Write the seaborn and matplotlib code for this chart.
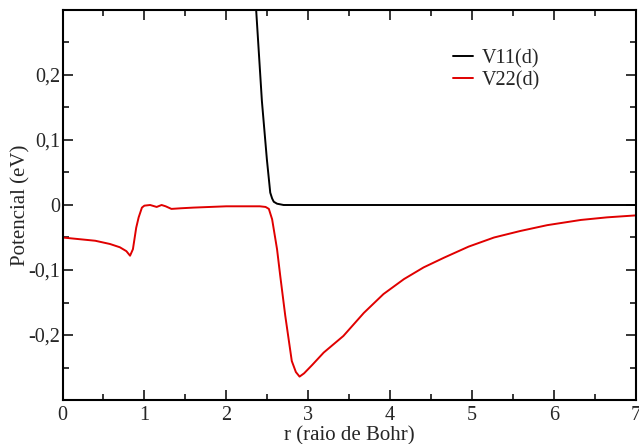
import matplotlib
matplotlib.use("Agg")
import matplotlib.pyplot as plt
import seaborn as sns
import pandas as pd
from matplotlib.ticker import MultipleLocator, FixedLocator, FixedFormatter
from matplotlib.lines import Line2D

# ---- data ----
x_v11 = [2.30, 2.365, 2.435, 2.496, 2.537, 2.56, 2.58, 2.62, 2.70, 3.5, 5.0, 7.0]
v11 = [0.43, 0.30, 0.16, 0.07, 0.019, 0.010, 0.005, 0.002, 0.0, 0.0, 0.0, 0.0]

x_v22 = [0.0, 0.2, 0.4, 0.58, 0.7, 0.78, 0.825, 0.86, 0.90, 0.93, 0.97, 1.0,
         1.07, 1.15, 1.21, 1.26, 1.33, 1.45, 1.6, 1.8, 2.0, 2.2, 2.41, 2.48,
         2.52, 2.56, 2.62, 2.66, 2.72, 2.80, 2.85, 2.895, 2.95, 3.05, 3.19, 3.43,
         3.68, 3.92, 4.17, 4.41, 4.66, 4.96, 5.27, 5.59, 5.92, 6.33, 6.65, 7.0]
v22 = [-0.050, -0.0525, -0.055, -0.060, -0.065, -0.071, -0.078, -0.068, -0.035,
       -0.019, -0.004, -0.001, 0.0, -0.003, 0.0, -0.002, -0.006, -0.005, -0.004,
       -0.003, -0.002, -0.002, -0.002, -0.003, -0.006, -0.022, -0.068, -0.110,
       -0.170, -0.240, -0.257, -0.264, -0.259, -0.246, -0.227, -0.2015, -0.166,
       -0.137, -0.114, -0.096, -0.081, -0.064, -0.050, -0.040, -0.031, -0.023,
       -0.019, -0.016]

series_labels = ["V11(d)", "V22(d)"]
series_colors = ["#000000", "#e00000"]
x_ticks = [0, 1, 2, 3, 4, 5, 6, 7]
x_tick_labels = ["0", "1", "2", "3", "4", "5", "6", "7"]
y_ticks = [-0.2, -0.1, 0.0, 0.1, 0.2]
y_tick_labels = ["-0,2", "-0,1", "0", "0,1", "0,2"]
x_label = "r (raio de Bohr)"
y_label = "Potencial (eV)"

# ---- style ----
sns.set_style("ticks")
plt.rcParams["font.family"] = ["Liberation Serif", "DejaVu Serif"]
plt.rcParams["font.size"] = 14.5

fig = plt.figure(figsize=(6.39, 4.44), dpi=100)
ax = fig.add_axes([62.5 / 639, 1 - 400 / 444, (635.7 - 62.5) / 639, 390 / 444])

df11 = pd.DataFrame({"r": x_v11, "V": v11})
df22 = pd.DataFrame({"r": x_v22, "V": v22})
sns.lineplot(data=df11, x="r", y="V", ax=ax, color=series_colors[0], linewidth=1.4,
             sort=False, estimator=None)
sns.lineplot(data=df22, x="r", y="V", ax=ax, color=series_colors[1], linewidth=1.4,
             sort=False, estimator=None)

ax.set_xlim(0, 7)
ax.set_ylim(-0.3, 0.3)
ax.xaxis.set_major_locator(FixedLocator(x_ticks))
ax.xaxis.set_major_formatter(FixedFormatter(x_tick_labels))
ax.yaxis.set_major_locator(FixedLocator(y_ticks))
ax.yaxis.set_major_formatter(FixedFormatter(y_tick_labels))
ax.xaxis.set_minor_locator(MultipleLocator(0.5))
ax.yaxis.set_minor_locator(MultipleLocator(0.05))
ax.tick_params(which="both", direction="in", top=True, right=True, width=1.1,
               color="black", labelsize=14.5)
ax.tick_params(which="major", length=7)
ax.tick_params(which="minor", length=4.3)
ax.tick_params(axis="x", which="major", pad=4)
ax.tick_params(axis="y", which="major", pad=1.5)
for s in ax.spines.values():
    s.set_linewidth(1.5)
    s.set_color("black")
    s.set_visible(True)

ax.set_xlabel(x_label, fontsize=15, labelpad=1)
ax.set_ylabel(y_label, fontsize=15, labelpad=-1.5)

handles = [Line2D([], [], color=c, linewidth=1.4) for c in series_colors]
ax.legend(handles, series_labels, loc="upper left", frameon=False,
          bbox_to_anchor=(453 / 639, 1 - 49 / 444), bbox_transform=fig.transFigure,
          borderpad=0, handlelength=1.0, handletextpad=0.45, labelspacing=0.15,
          fontsize=14.5, borderaxespad=0)

fig.savefig("out.png", dpi=100)
